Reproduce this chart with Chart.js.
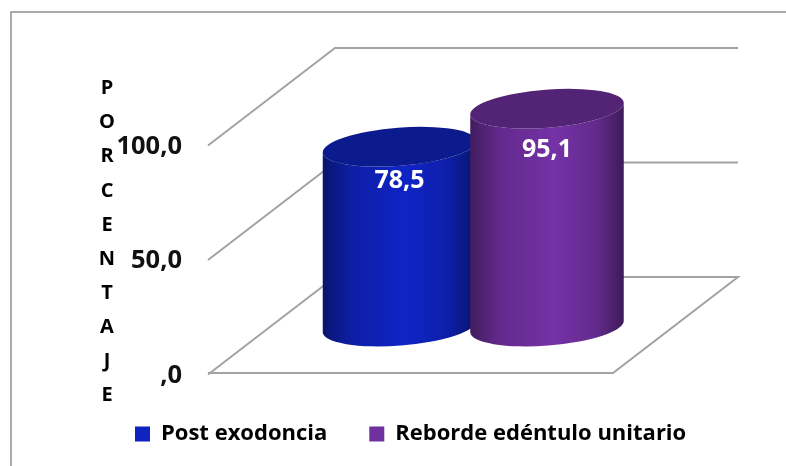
<!DOCTYPE html>
<html><head><meta charset="utf-8">
<style>html,body{margin:0;padding:0;background:#fff}canvas{display:block}</style>
<script src="https://cdn.jsdelivr.net/npm/chart.js@4/dist/chart.umd.min.js"></script>
</head><body><canvas id="c" width="786" height="466"></canvas>
<script>
const categories = ['Porcentaje'];
const seriesNames = ['Post exodoncia', 'Reborde edéntulo unitario'];
const postExodoncia = [78.5];
const rebordeEdentulo = [95.1];
const seriesColors = ['#0F23BE', '#7030A0'];
const tickValues = [0, 50, 100];
const tickLabels = [',0', '50,0', '100,0'];
const axisTitle = ['P','O','R','C','E','N','T','A','J','E'];
const labelOffsets = [34, 41];

const FONT = '"Open Sans", Lato, sans-serif';
const GRID = '#a3a3a3';
const DEPTH_X = 125, DEPTH_Y = 96;

function shade(hex, f) {
  const n = parseInt(hex.slice(1), 16);
  return 'rgb(' + [(n >> 16) & 255, (n >> 8) & 255, n & 255].map(c => Math.round(c * f)).join(',') + ')';
}

// Cylinder rendering of the library's own bar element
const Bar = Chart.registry.getElement('bar');
Bar.prototype.draw = function (ctx) {
  const p = this.getProps(['x', 'y', 'base', 'width'], true);
  const col = this.options.backgroundColor;
  const rx = p.width / 2, ry = 19, tilt = -4.5 * Math.PI / 180;
  const dx = rx * Math.cos(tilt), dy = rx * Math.sin(tilt);
  const g = ctx.createLinearGradient(p.x - rx, 0, p.x + rx, 0);
  [[0, .58], [.06, .68], [.2, .88], [.55, 1.04], [.82, .88], [.93, .68], [1, .55]]
    .forEach(s => g.addColorStop(s[0], shade(col, s[1])));
  ctx.save();
  ctx.beginPath();
  ctx.ellipse(p.x, p.base, rx, ry, tilt, Math.PI, 0, true);
  ctx.lineTo(p.x + dx, p.y + dy);
  ctx.ellipse(p.x, p.y, rx, ry, tilt, 0, Math.PI, false);
  ctx.closePath();
  ctx.fillStyle = g;
  ctx.fill();
  ctx.beginPath();
  ctx.ellipse(p.x, p.y, rx, ry, tilt, 0, Math.PI * 2);
  ctx.fillStyle = shade(col, .74);
  ctx.fill();
  ctx.restore();
};

let ownPass = false;
const scene = {
  id: 'scene',
  beforeLayout(chart) {
    const lg = chart.legend;
    if (lg && !lg._wrapped) {
      const f = lg.fit;
      lg.fit = function () { f.call(this); this.height = 93; };
      lg._wrapped = true;
    }
  },
  afterLayout(chart) {
    chart.legend.left = 135 - chart.legend.options.labels.padding;
    chart.legend.top = 423 - chart.legend.options.labels.padding;
  },
  beforeDraw(chart) {
    const c = chart.ctx;
    c.save();
    c.fillStyle = '#fff';
    c.fillRect(0, 0, chart.width, chart.height);
    c.strokeStyle = '#8f8f8f';
    c.lineWidth = 1.5;
    c.beginPath();
    c.moveTo(11, 466); c.lineTo(11, 12); c.lineTo(786, 12);
    c.stroke();
    // stacked axis title
    c.fillStyle = '#000';
    c.font = 'bold 20px ' + FONT;
    c.textAlign = 'center';
    c.textBaseline = 'middle';
    axisTitle.forEach((ch, i) => c.fillText(ch, 107, 88.5 + i * 34.1));
    c.restore();
  },
  beforeDatasetsDraw(chart) {
    const c = chart.ctx, y = chart.scales.y, a = chart.chartArea;
    c.save();
    c.strokeStyle = GRID;
    c.lineWidth = 2;
    tickValues.forEach(v => {
      const py = y.getPixelForValue(v);
      c.beginPath();
      c.moveTo(a.left - 2, py + 1.5);
      c.lineTo(a.left + DEPTH_X, py - DEPTH_Y);
      c.lineTo(a.right + 1.5, py - DEPTH_Y);
      if (v === tickValues[0]) {
        c.lineTo(a.right + 1.5 - DEPTH_X, py);
        c.lineTo(a.left - 2, py);
      }
      c.stroke();
    });
    c.restore();
  },
  // the library paints later datasets first; the first series has to sit behind the second
  beforeDatasetDraw() { return ownPass; },
  afterDatasetsDraw(chart) {
    const c = chart.ctx;
    ownPass = true;
    chart.data.datasets.forEach((ds, i) => chart.getDatasetMeta(i).controller.draw());
    ownPass = false;
    c.save();
    c.fillStyle = '#fff';
    c.font = 'bold 25px ' + FONT;
    c.textAlign = 'center';
    c.textBaseline = 'middle';
    chart.data.datasets.forEach((ds, i) => {
      const el = chart.getDatasetMeta(i).data[0];
      c.fillText(ds.data[0].toFixed(1).replace('.', ','), el.x, el.y + labelOffsets[i]);
    });
    c.restore();
  }
};

new Chart(document.getElementById('c'), {
  type: 'bar',
  data: {
    labels: categories,
    datasets: [
      { label: seriesNames[0], data: postExodoncia, backgroundColor: seriesColors[0], yAxisID: 'yBar',
        categoryPercentage: .5603, barPercentage: 1.044 },
      { label: seriesNames[1], data: rebordeEdentulo, backgroundColor: seriesColors[1], yAxisID: 'yBar',
        categoryPercentage: .5603, barPercentage: 1.044 }
    ]
  },
  options: {
    responsive: false,
    animation: false,
    layout: { padding: { left: 0, right: 49.5, top: 48, bottom: 0 } },
    scales: {
      x: { display: false },
      y: {
        position: 'left', min: 0, max: 141.9,
        grid: { display: false, drawTicks: false, tickLength: 0 },
        border: { display: false },
        afterBuildTicks(s) { s.ticks = tickValues.map(v => ({ value: v })); },
        afterFit(s) { s.width = 210; },
        ticks: {
          padding: 28, color: '#111', labelOffset: 2.5,
          font: { family: FONT, weight: 'bold', size: 25.5 },
          autoSkip: false,
          callback: v => tickLabels[tickValues.indexOf(v)]
        }
      },
      yBar: { display: false, min: -20.3, max: 121.6 }
    },
    plugins: {
      tooltip: { enabled: false },
      legend: {
        position: 'bottom', align: 'start',
        labels: {
          boxWidth: 15, boxHeight: 15, padding: 42, color: '#000',
          font: { family: FONT, weight: 'bold', size: 22 }
        }
      }
    }
  },
  plugins: [scene]
});
</script></body></html>
